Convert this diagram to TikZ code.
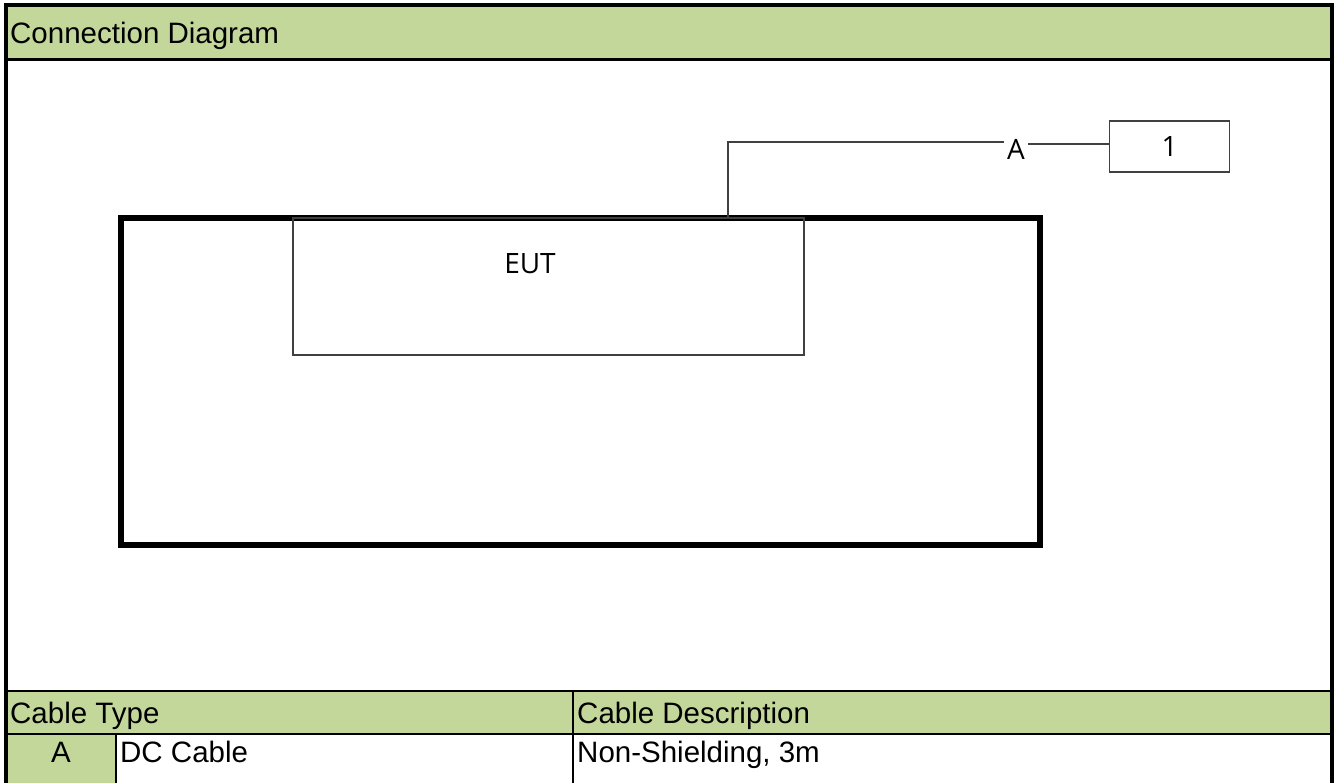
\documentclass[tikz,border=0pt]{standalone}
\usepackage{fontspec}
\setmainfont{Liberation Sans}
\newfontfamily\labelfont{Open Sans}
\usetikzlibrary{calc}
\definecolor{hdrgreen}{HTML}{C4D79B}
\begin{document}
\begin{tikzpicture}[x=1pt,y=-1pt,
  frameline/.style={line width=4pt},
  gridline/.style={line width=2.6pt},
  thingrid/.style={line width=2pt},
  cell/.style={anchor=base west, inner sep=0pt, font=\fontsize{29.5}{34}\selectfont},
  enclosure/.style={draw, line width=6pt, inner sep=0pt},
  unit/.style={draw=black!75, line width=1.5pt, inner sep=0pt},
  wire/.style={draw=black!75, line width=1.2pt},
  tagfont/.style={font=\labelfont\fontsize{28}{32}\selectfont},
  tag/.style={tagfont, inner sep=0pt}]
\useasboundingbox (0,0) rectangle (1339,783);
\fill[white] (0,0) rectangle (1339,783);

% shaded header bands
\fill[hdrgreen] (8,7) rectangle (1330,58);
\fill[hdrgreen] (8,692) rectangle (1330,733);
\fill[hdrgreen] (8,735) rectangle (115,783);

% sheet grid
\draw[frameline] (6,783) -- (6,5) -- (1332,5) -- (1332,783);
\draw[gridline] (6,59.5) -- (1332,59.5);
\draw[gridline] (6,691) -- (1332,691);
\draw[gridline] (6,734) -- (1332,734);
\draw[thingrid] (573,691) -- (573,783);
\draw[thingrid] (116,734) -- (116,783);

% sheet texts
\node[cell] (title) at (10,43.5) {Connection Diagram};
\node[cell] (typehdr) at (10,723) {Cable Type};
\node[cell] (deschdr) at (577,723) {Cable Description};
\node[cell, anchor=base] (typeA) at (61,762) {A};
\node[cell] (typename) at (120,762) {DC Cable};
\node[cell] (typedesc) at (577,762) {Non-Shielding, 3m};

% connection diagram
\node[enclosure, minimum width=919pt, minimum height=327pt] (encl) at (580.5,381.5) {};
\node[unit, minimum width=511pt, minimum height=137pt] (eut) at (548.5,286.5) {};
\node[tag, anchor=base] (eutlabel) at (530,274) {EUT};
\node[unit, tagfont, minimum width=120pt, minimum height=51pt] (dev1) at (1169.5,146.5) {1};
\node[tag, inner xsep=3pt] (labA) at (1016,149) {A};
\coordinate (port) at (728,218);
\coordinate (dev1in) at ($(dev1.west)+(0,-2.5)$);
\draw[wire] (port) |- ($(labA.west)+(0,-7)$);
\draw[wire] (labA.east |- dev1in) -- (dev1in);
\end{tikzpicture}
\end{document}
